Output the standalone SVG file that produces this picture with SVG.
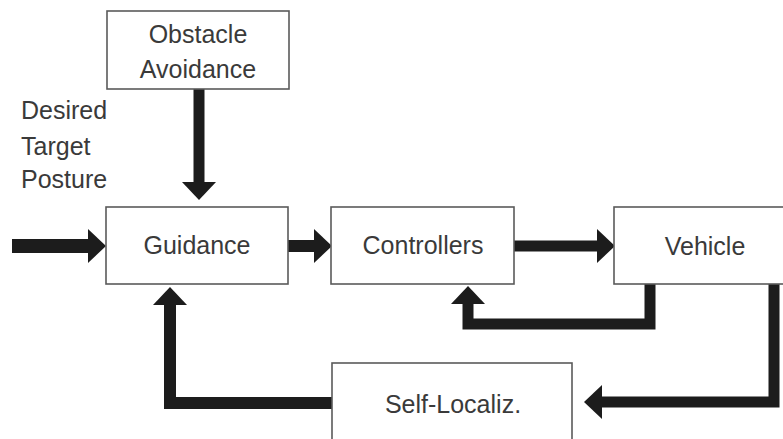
<svg xmlns="http://www.w3.org/2000/svg" width="783" height="439" viewBox="0 0 783 439">
<defs>
<style>
.box{fill:#fff;stroke:#5a5a5a;stroke-width:1.6}
.lbl{font-family:"Liberation Sans",Arial,Helvetica,sans-serif;font-size:25px;fill:#3a3a3a;text-anchor:middle}
.lft{text-anchor:start}
.arr{fill:none;stroke:#1c1c1c;stroke-width:12;stroke-linejoin:miter;marker-end:url(#head)}
</style>
<marker id="head" markerUnits="userSpaceOnUse" markerWidth="19" markerHeight="34" refX="0" refY="17" orient="auto" overflow="visible">
<path d="M0,0 L18,17 L0,34 Z" fill="#1c1c1c"/>
</marker>
</defs>
<rect width="783" height="439" fill="#fff"/>
<g id="connectors">
<path class="arr" style="stroke-width:14" d="M12,246 H88"/>
<path class="arr" style="stroke-width:11" d="M199,89 V182"/>
<path class="arr" d="M288,246 H314"/>
<path class="arr" style="stroke-width:11" d="M514,246 H597"/>
<path class="arr" style="stroke-width:11" d="M650,284 V324 H468 V304"/>
<path class="arr" style="stroke-width:11" d="M774,284 V402 H602"/>
<path class="arr" d="M332,403 H170 V305"/>
</g>
<g id="obstacle">
<rect class="box" x="107" y="11" width="182" height="78"/>
<text class="lbl" x="198" y="43">Obstacle</text>
<text class="lbl" x="198" y="78">Avoidance</text>
</g>
<g id="desired">
<text class="lbl lft" x="21" y="119">Desired</text>
<text class="lbl lft" x="21" y="155">Target</text>
<text class="lbl lft" x="21" y="188">Posture</text>
</g>
<g id="guidance">
<rect class="box" x="106" y="207" width="182" height="77"/>
<text class="lbl" x="197" y="254">Guidance</text>
</g>
<g id="controllers">
<rect class="box" x="331" y="207" width="183" height="77"/>
<text class="lbl" x="423" y="254">Controllers</text>
</g>
<g id="vehicle">
<rect class="box" x="614" y="207" width="180" height="77"/>
<text class="lbl" x="705" y="255">Vehicle</text>
</g>
<g id="selflocaliz">
<rect class="box" x="332" y="363" width="240" height="90"/>
<text class="lbl" x="453" y="413">Self-Localiz.</text>
</g>
</svg>
